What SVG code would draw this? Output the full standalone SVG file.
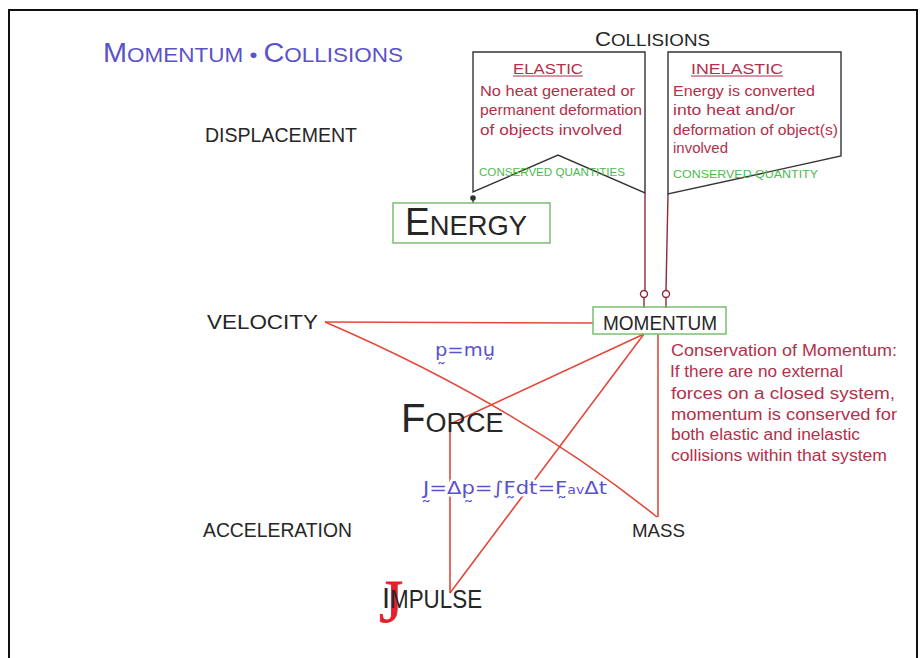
<svg xmlns="http://www.w3.org/2000/svg" width="920" height="658" viewBox="0 0 920 658">
<style>
text{font-family:"Liberation Sans","DejaVu Sans",sans-serif;}
.blk{fill:#262626;}
.blue{fill:#5a52c8;}
.mar{fill:#b3304a;}
.grn{fill:#4cba50;font-size:10.5px;}
.red{stroke:#e2493a;stroke-width:1.6;fill:none;}
.mline{stroke:#8e2a3c;stroke-width:1.4;fill:none;}
.gbox{fill:none;stroke:#78c070;stroke-width:1.5;}
.cbox{fill:#fff;stroke:#333;stroke-width:1.4;}
.halo{paint-order:stroke;stroke:#fff;stroke-width:5px;stroke-linejoin:round;}
</style>
<rect x="0" y="0" width="920" height="658" fill="#fff"/>
<rect x="9" y="10" width="908" height="700" fill="none" stroke="#111" stroke-width="2"/>

<g id="title">
<text class="blue" x="103" y="62" textLength="300" lengthAdjust="spacingAndGlyphs"><tspan font-size="27">M</tspan><tspan font-size="21">OMENTUM</tspan><tspan font-size="21"> • </tspan><tspan font-size="27">C</tspan><tspan font-size="21">OLLISIONS</tspan></text>
</g>

<g id="connectors">
<line class="red" x1="325" y1="322" x2="593" y2="323"/>
<path class="red" d="M325,322 Q516,404 657,517"/>
<line class="red" x1="658" y1="334" x2="658" y2="517"/>
<polyline class="red" points="644,334 450,424 450,593"/>
<line class="red" x1="644" y1="334" x2="450" y2="593"/>
<polyline class="mline" points="645,193 645,290"/>
<circle class="mline" cx="644" cy="294" r="3.5"/>
<line class="mline" x1="644" y1="297.5" x2="644" y2="308"/>
<polyline class="mline" points="668,194 666,290"/>
<circle class="mline" cx="666" cy="294" r="3.5"/>
<line class="mline" x1="666" y1="297.5" x2="666" y2="308"/>
<line stroke="#333" stroke-width="1.4" x1="473" y1="198" x2="473" y2="203"/>
<circle cx="473" cy="198" r="2.8" fill="#333"/>
</g>

<g id="collisions">
<text class="blk" x="595" y="46" textLength="115" lengthAdjust="spacingAndGlyphs"><tspan font-size="20">C</tspan><tspan font-size="17">OLLISIONS</tspan></text>
</g>

<g id="elastic">
<polygon class="cbox" points="473,52 645,52 645,193 558,155 473,192"/>
<text class="mar" x="513" y="74" font-size="15" textLength="70" lengthAdjust="spacingAndGlyphs">ELASTIC</text>
<line x1="513" y1="76" x2="583" y2="76" stroke="#b3304a" stroke-width="1.2"/>
<text class="mar" x="480" y="96" font-size="15" textLength="155" lengthAdjust="spacingAndGlyphs">No heat generated or</text>
<text class="mar" x="480" y="115" font-size="15" textLength="162" lengthAdjust="spacingAndGlyphs">permanent deformation</text>
<text class="mar" x="480" y="135" font-size="15" textLength="142" lengthAdjust="spacingAndGlyphs">of objects involved</text>
<text class="grn" x="479" y="176" textLength="146" lengthAdjust="spacingAndGlyphs">CONSERVED QUANTITIES</text>
</g>

<g id="inelastic">
<polygon class="cbox" points="668,52 841,52 841,156 668,194"/>
<text class="mar" x="691" y="74" font-size="15" textLength="92" lengthAdjust="spacingAndGlyphs">INELASTIC</text>
<line x1="691" y1="76" x2="783" y2="76" stroke="#b3304a" stroke-width="1.2"/>
<text class="mar" x="673" y="96" font-size="15" textLength="142" lengthAdjust="spacingAndGlyphs">Energy is converted</text>
<text class="mar" x="673" y="115" font-size="15" textLength="122" lengthAdjust="spacingAndGlyphs">into heat and/or</text>
<text class="mar" x="673" y="135" font-size="15" textLength="165" lengthAdjust="spacingAndGlyphs">deformation of object(s)</text>
<text class="mar" x="673" y="153" font-size="15" textLength="55" lengthAdjust="spacingAndGlyphs">involved</text>
<text class="grn" x="673" y="178" textLength="145" lengthAdjust="spacingAndGlyphs">CONSERVED QUANTITY</text>
</g>

<g id="displacement">
<text class="blk" x="205" y="142" font-size="21" textLength="152" lengthAdjust="spacingAndGlyphs">DISPLACEMENT</text>
</g>

<g id="energy">
<rect class="gbox" x="393" y="203" width="157" height="40"/>
<text class="blk" x="405" y="235" textLength="122" lengthAdjust="spacingAndGlyphs"><tspan font-size="38">E</tspan><tspan font-size="28">NERGY</tspan></text>
</g>

<g id="velocity">
<text class="blk" x="207" y="329" font-size="20" textLength="111" lengthAdjust="spacingAndGlyphs">VELOCITY</text>
</g>

<g id="momentum">
<rect class="gbox" x="593" y="307" width="133" height="27" fill="#fff"/>
<text class="blk" x="603" y="330" font-size="21" textLength="114" lengthAdjust="spacingAndGlyphs">MOMENTUM</text>
</g>

<g id="p-formula">
<text class="blue" x="435" y="356" font-size="18" textLength="60" lengthAdjust="spacingAndGlyphs" style="font-family:'DejaVu Sans',sans-serif">p̰=mṵ</text>
</g>

<g id="force">
<text class="blk" x="401" y="432"><tspan font-size="40">F</tspan><tspan font-size="27">ORCE</tspan></text>
</g>

<g id="impulse-formula">
<text class="blue halo" x="423" y="494" font-size="18" textLength="184" lengthAdjust="spacingAndGlyphs" style="font-family:'DejaVu Sans',sans-serif">J̰=Δp̰=∫F̰dt=F̰<tspan font-size="12">av</tspan>Δt</text>
</g>

<g id="conservation">
<text class="mar" x="671" y="356" font-size="16" textLength="226" lengthAdjust="spacingAndGlyphs">Conservation of Momentum:</text>
<text class="mar" x="670" y="377" font-size="16" textLength="173" lengthAdjust="spacingAndGlyphs">If there are no external</text>
<text class="mar" x="671" y="399" font-size="16" textLength="224" lengthAdjust="spacingAndGlyphs">forces on a closed system,</text>
<text class="mar" x="671" y="420" font-size="16" textLength="226" lengthAdjust="spacingAndGlyphs">momentum is conserved for</text>
<text class="mar" x="671" y="440" font-size="16" textLength="189" lengthAdjust="spacingAndGlyphs">both elastic and inelastic</text>
<text class="mar" x="671" y="461" font-size="16" textLength="216" lengthAdjust="spacingAndGlyphs">collisions within that system</text>
</g>

<g id="acceleration">
<text class="blk" x="203" y="537" font-size="20" textLength="149" lengthAdjust="spacingAndGlyphs">ACCELERATION</text>
</g>

<g id="mass">
<text class="blk" x="632" y="537" font-size="19" textLength="53" lengthAdjust="spacingAndGlyphs">MASS</text>
</g>

<g id="impulse">
<text x="379" y="622"><tspan font-size="62" fill="#e3202c" stroke="#e3202c" stroke-width="0.8" style="font-family:'Liberation Serif',serif">J</tspan><tspan class="blk" x="382" y="608" font-size="29">I</tspan><tspan class="blk" font-size="25" textLength="92" lengthAdjust="spacingAndGlyphs">MPULSE</tspan></text>
</g>
</svg>
